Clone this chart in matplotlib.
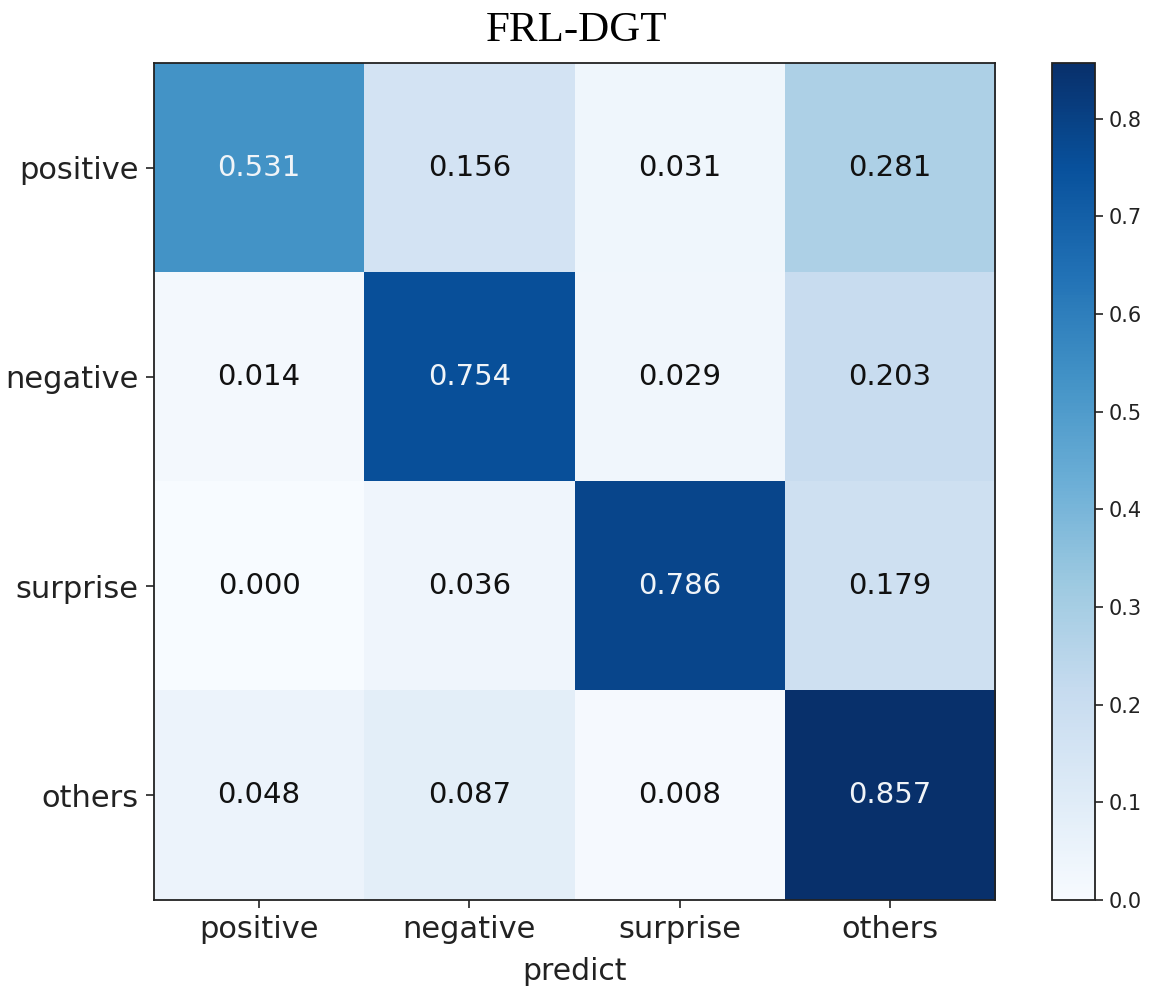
import matplotlib
matplotlib.use("Agg")
import matplotlib.pyplot as plt
import numpy as np

classes = ["positive", "negative", "surprise", "others"]
row_positive = [0.531, 0.156, 0.031, 0.281]
row_negative = [0.014, 0.754, 0.029, 0.203]
row_surprise = [0.000, 0.036, 0.786, 0.179]
row_others = [0.048, 0.087, 0.008, 0.857]
cbar_ticks = [0.0, 0.1, 0.2, 0.3, 0.4, 0.5, 0.6, 0.7, 0.8]

cm = np.array([row_positive, row_negative, row_surprise, row_others])

fig = plt.figure(figsize=(11.54, 9.94), dpi=100)
ax = fig.add_axes([0.1334, 0.0946, 0.7290, 0.8420])
im = ax.imshow(cm, cmap="Blues", vmin=0, vmax=cm.max(), aspect="auto")

ax.set_xticks(range(len(classes)))
ax.set_yticks(range(len(classes)))
ax.set_xticklabels(classes, fontsize=22)
ax.set_yticklabels(classes, fontsize=22)
ax.tick_params(axis="both", length=6, width=1.2, color="#222222", labelcolor="#222222", pad=5)
ax.set_xlabel("predict", fontsize=21.5, color="#222222", labelpad=9)
for s in ax.spines.values():
    s.set_linewidth(1.3)
    s.set_color("#222222")

thresh = cm.max() / 2
for i in range(cm.shape[0]):
    for j in range(cm.shape[1]):
        ax.text(j, i, f"{cm[i, j]:.3f}", ha="center", va="center", fontsize=21,
                color="#f0f4f8" if cm[i, j] > thresh else "#111111")

cax = fig.add_axes([0.9116, 0.0946, 0.0373, 0.8420])
cb = fig.colorbar(im, cax=cax, ticks=cbar_ticks)
cb.ax.tick_params(labelsize=15, length=6, width=1.2, color="#222222", labelcolor="#222222")
cb.outline.set_linewidth(1.3)
cb.outline.set_edgecolor("#222222")

fig.text(0.5, 0.969, "FRL-DGT", ha="center", va="center", fontsize=31,
         family=["Liberation Serif", "DejaVu Serif"])

fig.savefig("out.png", dpi=100)
